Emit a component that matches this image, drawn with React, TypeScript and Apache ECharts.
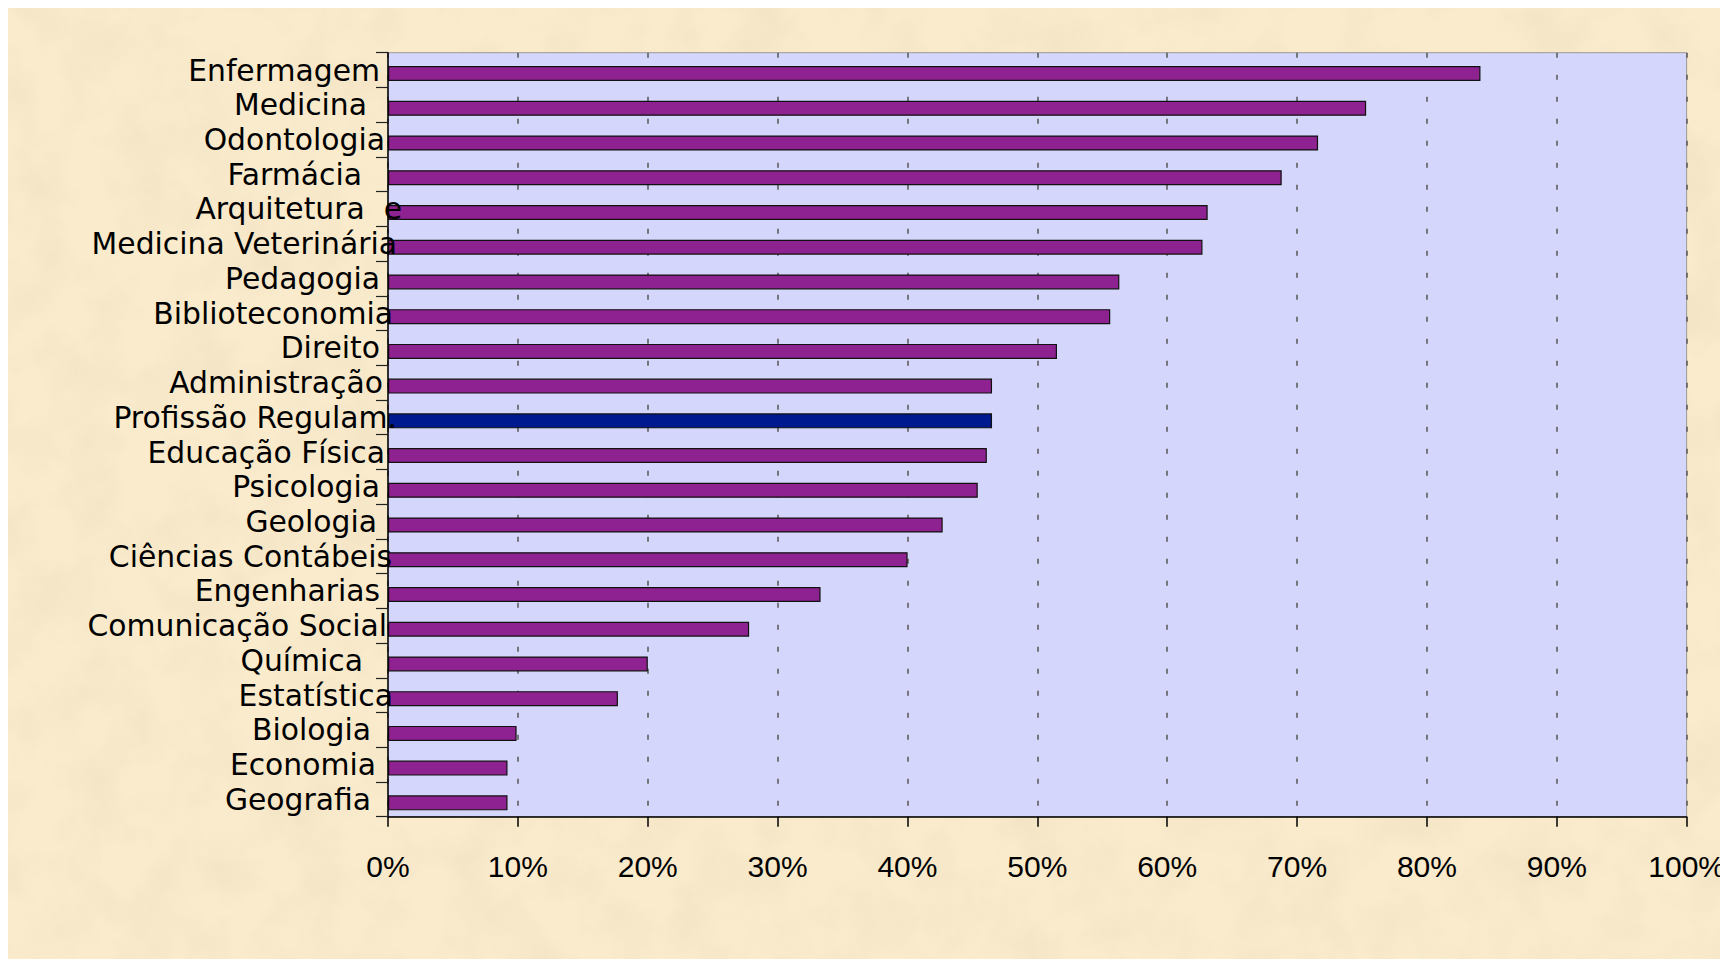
import React, { useEffect, useRef } from "react";
import * as echarts from "echarts";

// ---- data ----
const categories = [
  "Enfermagem",
  "Medicina",
  "Odontologia",
  "Farmácia",
  "Arquitetura  e",
  "Medicina Veterinária",
  "Pedagogia",
  "Biblioteconomia",
  "Direito",
  "Administração",
  "Profissão Regulam.",
  "Educação Física",
  "Psicologia",
  "Geologia",
  "Ciências Contábeis",
  "Engenharias",
  "Comunicação Social",
  "Química",
  "Estatística",
  "Biologia",
  "Economia",
  "Geografia",
];
const values = [
  84.1, 75.3, 71.6, 68.8, 63.1, 62.7, 56.3, 55.6, 51.5, 46.5, 46.5, 46.1, 45.4,
  42.7, 40.0, 33.3, 27.8, 20.0, 17.7, 9.9, 9.2, 9.2,
];
const highlighted = "Profissão Regulam.";
const xTicks = [0, 10, 20, 30, 40, 50, 60, 70, 80, 90, 100];

// ---- styles ----
const PURPLE = "#8E2290";
const BLUE = "#00198F";
const PLOT_BG = "#D5D6FB";
const LABEL_SIZE = 29.8;
// gap (px) left between each label's end and the outermost label end
const labelGap = [22, 35, 17, 40, 0, 5, 22, 9, 22, 19, 5, 17, 22, 25, 10, 22, 15, 39, 9, 31, 26, 31];

const W = 1720;
const H = 951;
const G_LEFT = 380;
const G_RIGHT = 41;
const G_TOP = 44.7;
const G_BOTTOM = 142.3;
const BAR_SHIFT = 3.5;

const noiseSvg =
  "<svg xmlns='http://www.w3.org/2000/svg' width='1720' height='951'>" +
  "<filter id='n' x='0' y='0' width='100%' height='100%'>" +
  "<feTurbulence type='fractalNoise' baseFrequency='0.018' numOctaves='5' seed='7'/>" +
  "<feColorMatrix values='0 0 0 0 0.84  0 0 0 0 0.72  0 0 0 0 0.52  0 0 0 1.6 -0.62'/>" +
  "</filter>" +
  "<rect width='100%' height='100%' fill='#F9EBCC'/>" +
  "<rect width='100%' height='100%' filter='url(#n)' opacity='0.55'/>" +
  "</svg>";
const BG_URL = `url("data:image/svg+xml;utf8,${encodeURIComponent(noiseSvg)}")`;

export default function App() {
  const ref = useRef<HTMLDivElement>(null);
  useEffect(() => {
    document.documentElement.style.overflow = "hidden";
    const chart = echarts.init(ref.current!, undefined, { renderer: "svg" });
    const rich: Record<string, any> = {
      t: {
        fontFamily: "DejaVu Sans",
        fontSize: LABEL_SIZE,
        lineHeight: LABEL_SIZE,
        color: "#000",
      },
    };
    labelGap.forEach((g, i) => {
      rich["g" + i] = {
        width: g,
        fontSize: LABEL_SIZE,
        lineHeight: LABEL_SIZE,
        fontFamily: "DejaVu Sans",
      };
    });
    const option: any = {
      animation: false,
      backgroundColor: "transparent",
      grid: [
        {
          left: G_LEFT,
          right: G_RIGHT,
          top: G_TOP,
          bottom: G_BOTTOM,
          show: true,
          backgroundColor: PLOT_BG,
          borderColor: "#9a9a9a",
          borderWidth: 1,
        },
        {
          left: G_LEFT,
          right: G_RIGHT,
          top: G_TOP + BAR_SHIFT,
          bottom: G_BOTTOM - BAR_SHIFT,
          show: false,
        },
      ],
      xAxis: [
        {
          type: "value",
          gridIndex: 0,
          min: xTicks[0],
          max: xTicks[xTicks.length - 1],
          interval: 10,
          z: 0,
          axisLine: { show: true, lineStyle: { color: "#000", width: 1.5 } },
          axisTick: { show: true, length: 10, lineStyle: { color: "#000", width: 1.5 } },
          axisLabel: {
            margin: 35,
            fontFamily: "Liberation Sans",
            fontSize: 30,
            color: "#000",
            formatter: (v: number) => `${v}%`,
          },
          splitLine: {
            show: true,
            lineStyle: { color: "#555", width: 1.5, type: [5, 17] },
          },
        },
        {
          type: "value",
          gridIndex: 1,
          min: xTicks[0],
          max: xTicks[xTicks.length - 1],
          show: false,
        },
      ],
      yAxis: [
        {
          type: "category",
          gridIndex: 0,
          data: categories,
          inverse: true,
          z: 5,
          axisLine: { show: true, lineStyle: { color: "#000", width: 1.5 } },
          axisTick: { show: true, length: 12, lineStyle: { color: "#222", width: 1.2 } },
          splitLine: { show: false },
          axisLabel: {
            margin: -14,
            interval: 0,
            formatter: (v: string, i: number) => `{t|${v}}{g${i}| }`,
            rich,
          },
        },
        {
          type: "category",
          gridIndex: 1,
          data: categories,
          inverse: true,
          show: false,
        },
      ],
      series: [
        {
          type: "bar",
          xAxisIndex: 1,
          yAxisIndex: 1,
          barWidth: 15,
          data: values.map((v, i) => ({
            value: v,
            itemStyle: { color: categories[i] === highlighted ? BLUE : PURPLE },
          })),
          itemStyle: { borderColor: "#111", borderWidth: 1.2 },
        },
      ],
    };
    chart.setOption(option);
    return () => chart.dispose();
  }, []);

  return (
    <div
      ref={ref}
      style={{
        width: W + "px",
        height: H + "px",
        backgroundColor: "#F9EBCC",
        backgroundImage: BG_URL,
        backgroundSize: "100% 100%",
      }}
    />
  );
}
